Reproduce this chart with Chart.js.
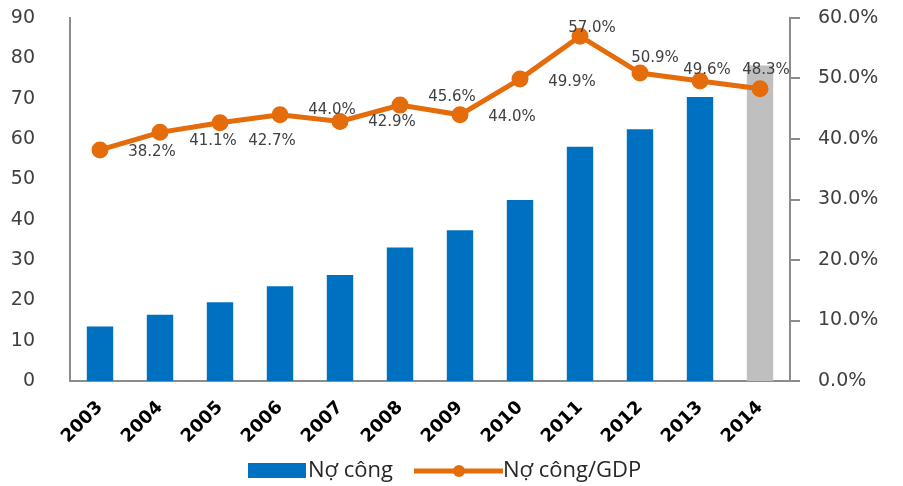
<!DOCTYPE html>
<html>
<head>
<meta charset="utf-8">
<script src="https://cdn.jsdelivr.net/npm/chart.js@4/dist/chart.umd.min.js"></script>
<style>
  html, body { margin: 0; padding: 0; background: #fff; }
  canvas { display: block; }
</style>
</head>
<body>
<canvas id="debtChart" width="903" height="486"></canvas>
<script>
const years = ['2003', '2004', '2005', '2006', '2007', '2008', '2009', '2010', '2011', '2012', '2013', '2014'];
const publicDebt = [13.5, 16.4, 19.5, 23.5, 26.3, 33.1, 37.4, 44.9, 58.1, 62.4, 70.4, 78.2];
const debtToGdp = [38.2, 41.1, 42.7, 44.0, 42.9, 45.6, 44.0, 49.9, 57.0, 50.9, 49.6, 48.3];
const seriesNames = ['Nợ công', 'Nợ công/GDP'];

const BLUE = '#0070C0', GREY = '#BFBFBF', ORANGE = '#E46C0A', AXIS = '#8C8C8C';

// label placement next to each point (Excel put them a bit all over the place)
const labelShift = [[52, 2], [53, 9], [52, 18], [52, -5], [52, 1], [52, -8], [52, 2], [52, 3], [12, -8], [15, -15], [7, -11], [6, -19]];

const pointLabels = {
    id: 'pointLabels',
    afterDatasetsDraw(chart) {
        const { ctx } = chart;
        const meta = chart.getDatasetMeta(1);
        ctx.save();
        ctx.font = '15px "DejaVu Sans"';
        ctx.fillStyle = '#404040';
        ctx.textAlign = 'center';
        ctx.textBaseline = 'middle';
        meta.data.forEach((pt, i) => {
            const [dx, dy] = labelShift[i];
            ctx.fillText(debtToGdp[i].toFixed(1) + '%', pt.x + dx, pt.y + dy);
        });
        ctx.restore();
    }
};

const bottomLegend = {
    id: 'bottomLegend',
    afterDraw(chart) {
        const { ctx } = chart;
        const y = 471;
        ctx.save();
        ctx.font = '22px "Open Sans"';
        ctx.textBaseline = 'middle';

        // bar item
        let x = 248;
        ctx.fillStyle = BLUE;
        ctx.fillRect(x, y - 8, 58, 15);
        ctx.fillStyle = '#262626';
        ctx.fillText(seriesNames[0], x + 60, y);

        // line item
        x = 414;
        ctx.strokeStyle = ORANGE;
        ctx.lineWidth = 5;
        ctx.beginPath();
        ctx.moveTo(x, y);
        ctx.lineTo(x + 89, y);
        ctx.stroke();
        ctx.fillStyle = ORANGE;
        ctx.beginPath();
        ctx.arc(x + 45, y, 6, 0, Math.PI * 2);
        ctx.fill();
        ctx.fillStyle = '#262626';
        ctx.fillText(seriesNames[1], x + 89, y);
        ctx.restore();
    }
};

// keep the plot top at 18px no matter what tick padding does
const fixVertical = width => s => {
    s.width = width;
    s.paddingTop = 18;
    s.paddingBottom = 0;
};

new Chart(document.getElementById('debtChart'), {
    data: {
        labels: years,
        datasets: [
            {
                type: 'bar',
                label: seriesNames[0],
                data: publicDebt,
                yAxisID: 'y',
                order: 1,
                backgroundColor: years.map((_, i) => i === years.length - 1 ? GREY : BLUE),
                barPercentage: 0.44,
                categoryPercentage: 1
            },
            {
                type: 'line',
                label: seriesNames[1],
                data: debtToGdp,
                yAxisID: 'y1',
                order: 0,
                borderColor: ORANGE,
                backgroundColor: ORANGE,
                borderWidth: 5,
                pointRadius: 6,
                pointBackgroundColor: ORANGE,
                pointBorderColor: ORANGE,
                tension: 0
            }
        ]
    },
    options: {
        responsive: false,
        animation: false,
        layout: { padding: 0 },
        plugins: {
            legend: { display: false },
            tooltip: { enabled: false }
        },
        scales: {
            x: {
                offset: true,
                grid: { display: false },
                border: { color: AXIS, width: 2 },
                ticks: {
                    color: '#000',
                    font: { family: 'DejaVu Sans', size: 18, weight: 'bold' },
                    maxRotation: 45,
                    minRotation: 45,
                    padding: 8
                },
                afterFit: s => { s.height = 105; }
            },
            y: {
                position: 'left',
                min: 0,
                max: 90,
                grid: { display: false },
                border: { color: AXIS, width: 2 },
                ticks: {
                    stepSize: 10,
                    color: '#404040',
                    font: { family: 'DejaVu Sans', size: 19 },
                    padding: 27
                },
                afterFit: fixVertical(70)
            },
            y1: {
                position: 'right',
                min: 0,
                max: 60,
                grid: {
                    drawOnChartArea: false,
                    drawTicks: true,
                    tickLength: 10,
                    color: AXIS,
                    lineWidth: 2
                },
                border: { color: AXIS, width: 2 },
                ticks: {
                    stepSize: 10,
                    color: '#404040',
                    font: { family: 'DejaVu Sans', size: 19 },
                    padding: 18,
                    callback: v => v.toFixed(1) + '%'
                },
                afterFit: fixVertical(113)
            }
        }
    },
    plugins: [pointLabels, bottomLegend]
});
</script>
</body>
</html>
